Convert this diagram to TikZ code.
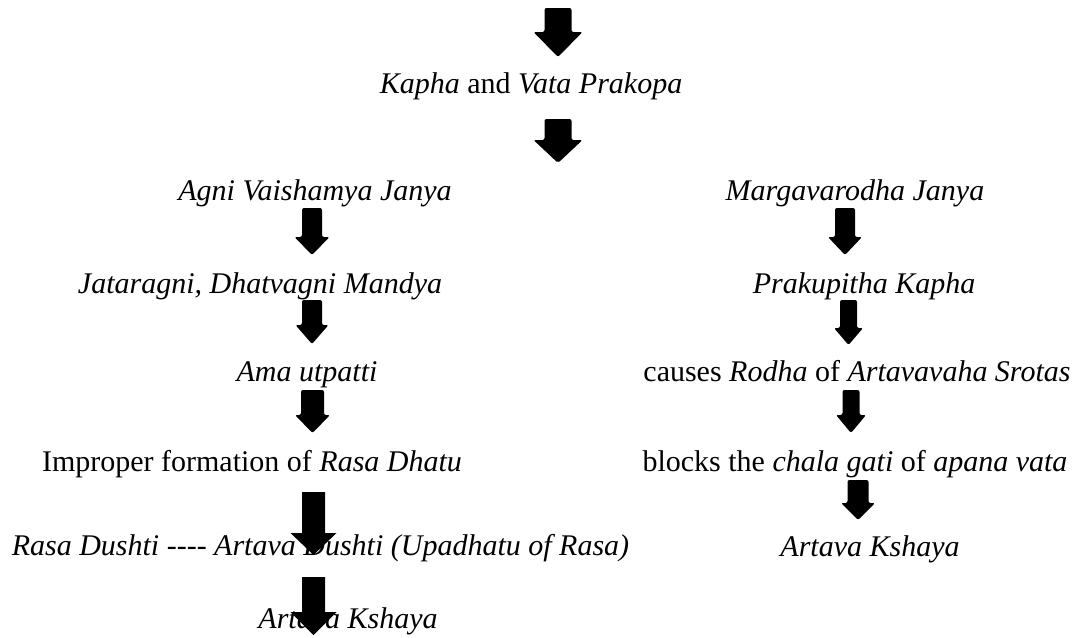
\documentclass[tikz,border=0pt]{standalone}
\usepackage{fontspec}
\setmainfont{Liberation Serif}
\tikzset{
  txt/.style={anchor=base, inner sep=0pt, font=\fontsize{30}{36}\selectfont},
  blk/.style={fill=black, draw=none},
  blkr/.style={blk, rounded corners=2pt}
}
% cx, top, head start, tip, shaft half width, head half width
\newcommand\barrow[7][blkr]{%
  \fill[#1] ({#2-#6},#3) -- ({#2+#6},#3) -- ({#2+#6},#4) -- ({#2+#7},#4)
    -- (#2,#5) -- ({#2-#7},#4) -- ({#2-#6},#4) -- cycle;}
\newcommand\hy{\mbox{-}}
\begin{document}
\begin{tikzpicture}[x=1pt,y=-1pt]
\useasboundingbox (0,0) rectangle (1078,637);
% texts
\node[txt] (kv) at (531,93) {\textit{Kapha} and \textit{Vata Prakopa}};
\node[txt] (agni) at (315,200) {\textit{Agni Vaishamya Janya}};
\node[txt] (marga) at (855,200) {\textit{Margavarodha Janya}};
\node[txt] (jata) at (260,293) {\textit{Jataragni, Dhatvagni Mandya}};
\node[txt] (prak) at (864,293) {\textit{Prakupitha Kapha}};
\node[txt] (ama) at (307,381) {\textit{Ama utpatti}};
\node[txt] (rodha) at (857,381) {causes \textit{Rodha} of \textit{Artavavaha Srotas}};
\node[txt] (impr) at (252,471) {Improper formation of \textit{Rasa Dhatu}};
\node[txt] (block) at (855,471) {blocks the \textit{chala gati} of \textit{apana vata}};
\node[txt] (rasa) at (320.5,555) {\textit{Rasa Dushti \hy\hy\hy\hy{} Artava Dushti (Upadhatu of Rasa)}};
\node[txt] (akr) at (870,556) {\textit{Artava Kshaya}};
\node[txt] (akl) at (348,628) {\textit{Artava Kshaya}};
% block arrows
\barrow{558}{8}{32}{57}{13.5}{24.5}
\barrow{558}{119}{140}{163}{13.5}{24.5}
\barrow{312}{208}{237}{255}{10}{17.5}
\barrow{845}{208}{237}{255}{10}{17}
\barrow{312}{300}{325}{344}{10}{16.5}
\barrow{848.5}{300}{328}{345}{8.5}{14.5}
\barrow{312.5}{390}{415}{433}{11.5}{17.5}
\barrow{851}{390}{415}{433}{8.5}{15}
\barrow[blk]{313.5}{492}{533}{555}{11.5}{23}
\barrow{858}{480}{503}{520}{10.5}{17}
\barrow[blk]{313.5}{577}{612}{635}{11.5}{23}
\end{tikzpicture}
\end{document}
